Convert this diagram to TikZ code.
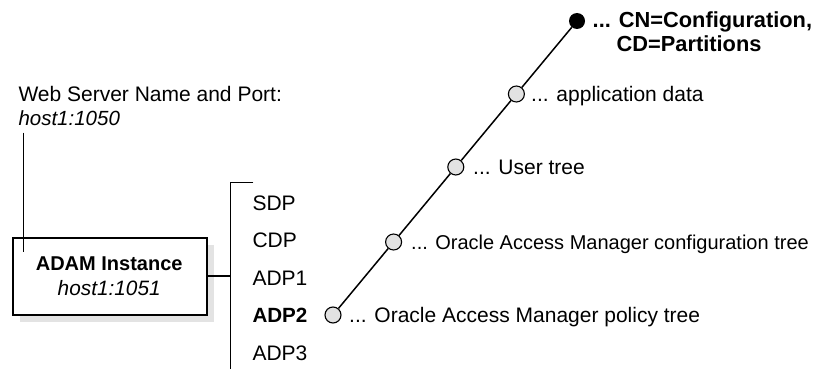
\documentclass[tikz,border=0pt]{standalone}
\usepackage{fontspec}
\setmainfont{Liberation Sans}
\definecolor{shadowgray}{HTML}{E3E3E3}
\definecolor{dotgray}{HTML}{E2E2E2}
\tikzset{
  lbl/.style={anchor=base west, inner sep=0pt, font=\fontsize{21}{25}\selectfont},
  boldlbl/.style={lbl, font=\fontsize{21}{25}\selectfont\bfseries},
  ringdot/.style={circle, draw=black, fill=dotgray, line width=1.1pt, minimum size=16pt, inner sep=0pt},
  blackdot/.style={circle, fill=black, minimum size=16pt, inner sep=0pt},
  treeline/.style={line width=1.5pt},
  thinline/.style={line width=1.3pt}
}
\begin{document}
\begin{tikzpicture}[x=1pt,y=-1pt]
\useasboundingbox (0,0) rectangle (814,369);
% web server label
\node[lbl] (web) at (18.3,101) {Web Server Name and Port:};
\node[lbl, font=\fontsize{20.5}{24}\selectfont\itshape] (webhost) at (18.3,125) {host1:1050};
\coordinate (wtop) at (23.3,132.7);
\coordinate (wend) at (23.3,251.7);
% ADAM box
\fill[shadowgray] (20,245) rectangle (213.5,321.7);
\node[draw=black, fill=white, line width=1.8pt, minimum width=193.7pt, minimum height=76.7pt, inner sep=0pt, anchor=north west] (adam) at (12.3,237.3) {};
\draw[thinline] (wtop) -- (wend);
\node[inner sep=0pt, anchor=base, font=\fontsize{20}{24}\selectfont\bfseries] (adamt) at (109.2,270) {ADAM Instance};
\node[inner sep=0pt, anchor=base, font=\fontsize{20.8}{24}\selectfont\itshape] (adamh) at (109.2,295.5) {host1:1051};
% bracket
\coordinate (bmid) at (230.7,276);
\coordinate (btick) at (253.3,182.7);
\coordinate (bbot) at (230.7,369);
\draw[thinline] (adam.east |- bmid) -- (bmid);
\draw[thinline] (btick) -| (bbot);
\node[lbl] (sdp) at (252.3,210.5) {SDP};
\node[lbl] (cdp) at (252.3,247.9) {CDP};
\node[lbl] (adp1) at (252.3,285.3) {ADP1};
\node[boldlbl, font=\fontsize{20.6}{24}\selectfont\bfseries] (adp2) at (252.3,322.2) {ADP2};
\node[lbl] (adp3) at (252.3,360.1) {ADP3};
% tree
\node[blackdot] (top) at (577,21) {};
\node[ringdot] (c1) at (516.4,94) {};
\node[ringdot] (c2) at (455.8,167) {};
\node[ringdot] (c3) at (393.6,242) {};
\node[ringdot] (c4) at (333,315) {};
\draw[treeline] (top) -- (c1);
\draw[treeline] (c1) -- (c2);
\draw[treeline] (c2) -- (c3);
\draw[treeline] (c3) -- (c4);
\node[boldlbl, font=\fontsize{21.8}{25}\selectfont\bfseries] (cn) at (592.5,27.5) {... CN=Configuration,};
\node[boldlbl, font=\fontsize{21.8}{25}\selectfont\bfseries] (cd) at (616.5,51.9) {CD=Partitions};
\node[lbl] (l1) at (531,101.4) {... application data};
\node[lbl] (l2) at (473,174.4) {... User tree};
\node[lbl, font=\fontsize{20}{24}\selectfont] (l3) at (411,249.7) {... Oracle Access Manager configuration tree};
\node[lbl] (l4) at (349,322.2) {... Oracle Access Manager policy tree};
\end{tikzpicture}
\end{document}
